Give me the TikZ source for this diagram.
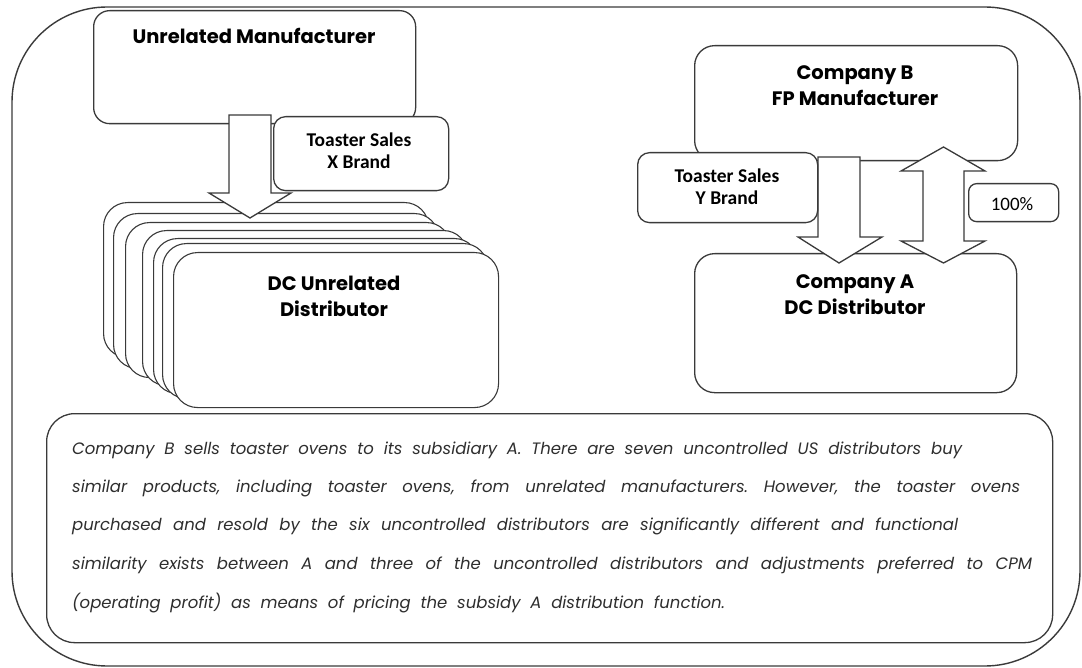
\documentclass[tikz,border=0pt]{standalone}
\usepackage{fontspec}
\newfontfamily\gothic{Poppins}
\newfontfamily\calib{Carlito}
\definecolor{linec}{HTML}{3A3A3A}
\definecolor{txtc}{HTML}{2E2E2E}
\frenchspacing
\begin{document}
\begin{tikzpicture}[x=1pt,y=-1pt,
  box/.style={draw=linec, line width=1.3pt, fill=white, rounded corners=#1, inner sep=0pt, anchor=north west},
  box/.default=16pt,
  blockarrow/.style={draw=linec, line width=1.3pt, fill=white, line join=miter},
  title/.style={font=\gothic\bfseries\fontsize{19.5}{22}\selectfont, text=black, anchor=base, inner sep=0pt},
  tag/.style={font=\calib\bfseries\fontsize{19.5}{22}\selectfont, text=black, anchor=base, inner sep=0pt},
  bodyline/.style={font=\gothic\itshape\fontsize{16.5}{20}\selectfont, text=txtc, anchor=base west, inner sep=0pt}]
\useasboundingbox (0,0) rectangle (1082,668);
% outer frame
\draw[draw=linec, line width=1.4pt, rounded corners=95pt] (12,7) rectangle (1080,666);

% ---- left group
\node[box, minimum width=322pt, minimum height=113pt] (um) at (93,10) {};
\foreach \i/\x/\y in {1/103/202, 2/113/213, 3/125/222, 4/142/230, 5/153/238, 6/162/243, 7/173/252}
  \node[box=24pt, minimum width=325pt, minimum height=155pt, line width=1.1pt] (d\i) at (\x,\y) {};
% arrow down (unrelated)
\draw[blockarrow] (229,115) -- (271,115) -- (271,193) -- (291,193) -- (250,218) -- (209,193) -- (229,193) -- cycle;
\node[box=12pt, minimum width=175pt, minimum height=74pt] (tx) at (273,116) {};

\node[title] (umt) at (254,44) {Unrelated Manufacturer};
\node[tag] (tx1) at (359,147) {Toaster Sales};
\node[tag] (tx2) at (359,169) {X Brand};
\node[title] (dt1) at (334,291) {DC Unrelated};
\node[title] (dt2) at (334,317) {Distributor};

% ---- right group
\node[box=20pt, minimum width=323pt, minimum height=115pt] (cb) at (694,45) {};
\node[box=20pt, minimum width=322pt, minimum height=139pt] (ca) at (694,253) {};
% single arrow B -> A
\draw[blockarrow] (818,157) -- (860,157) -- (860,237) -- (882,237) -- (839,263) -- (798,237) -- (818,237) -- cycle;
% double arrow
\draw[blockarrow] (943.5,147) -- (985,171) -- (964,171) -- (964,241) -- (985,241) -- (943.5,263) -- (901,241) -- (923,241) -- (923,171) -- (901,171) -- cycle;
\node[box=12pt, minimum width=180pt, minimum height=70pt] (ty) at (637,152) {};
\node[box=8pt, minimum width=90pt, minimum height=38pt] (pc) at (968,183) {};

\node[title] (cb1) at (855,80) {Company B};
\node[title] (cb2) at (855,106) {FP Manufacturer};
\node[tag] (ty1) at (727,183) {Toaster Sales};
\node[tag] (ty2) at (727,205) {Y Brand};
\node[tag, font=\calib\fontsize{19}{22}\selectfont] (pct) at (1012,211) {100\%};
\node[title] (ca1) at (855,289) {Company A};
\node[title] (ca2) at (855,315) {DC Distributor};

% ---- text box
\node[box=28pt, minimum width=1006pt, minimum height=229pt] (tb) at (46,413) {};
\node[bodyline] (l1) at (72,454) {\makebox[890pt][s]{Company B sells toaster ovens to its subsidiary A. There are seven uncontrolled US distributors buy}};
\node[bodyline] (l2) at (72,492) {\makebox[948pt][s]{similar products, including toaster ovens, from unrelated manufacturers. However, the toaster ovens}};
\node[bodyline] (l3) at (72,530) {\makebox[886pt][s]{purchased and resold by the six uncontrolled distributors are significantly different and functional}};
\node[bodyline] (l4) at (72,569) {\makebox[960pt][s]{similarity exists between A and three of the uncontrolled distributors and adjustments preferred to CPM}};
\node[bodyline] (l5) at (72,608) {\makebox[653pt][s]{(operating profit) as means of pricing the subsidy A distribution function.}};
\end{tikzpicture}
\end{document}
